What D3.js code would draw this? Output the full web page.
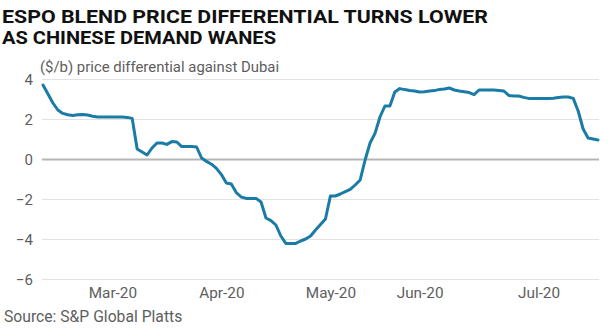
<!DOCTYPE html>
<html>
<head>
<meta charset="utf-8">
<script src="https://cdn.jsdelivr.net/npm/d3@7"></script>
<style>
  html, body { margin: 0; padding: 0; background: #fff; }
  svg { display: block; }
</style>
</head>
<body>
<svg id="chart" width="612" height="331"></svg>
<script>
// ESPO Blend differential against Dubai, $/b, one value per assessment day
const values = [
  3.70, 3.25, 2.80, 2.45, 2.28, 2.21, 2.17, 2.21, 2.23, 2.20,
  2.14, 2.10, 2.10, 2.10, 2.10, 2.10, 2.10, 2.08, 2.03, 0.50,
  0.35, 0.20, 0.55, 0.80, 0.80, 0.73, 0.87, 0.85, 0.62, 0.62,
  0.62, 0.60, 0.05, -0.12, -0.26, -0.47, -0.78, -1.20, -1.25, -1.68,
  -1.90, -1.97, -1.97, -1.97, -2.15, -2.95, -3.08, -3.30, -3.85, -4.22,
  -4.22, -4.22, -4.10, -4.00, -3.85, -3.55, -3.28, -3.00, -1.85, -1.85,
  -1.75, -1.63, -1.52, -1.30, -1.05, -0.05, 0.80, 1.28, 2.10, 2.65,
  2.65, 3.35, 3.52, 3.47, 3.43, 3.40, 3.35, 3.36, 3.40, 3.42,
  3.48, 3.50, 3.55, 3.45, 3.40, 3.36, 3.32, 3.22, 3.45, 3.45,
  3.45, 3.45, 3.43, 3.40, 3.18, 3.15, 3.15, 3.08, 3.03, 3.02,
  3.02, 3.02, 3.02, 3.04, 3.08, 3.10, 3.10, 3.03, 2.40, 1.50,
  1.05, 1.00, 0.95
];

// month labels and the observation they sit under
const monthLabels = ["Mar-20", "Apr-20", "May-20", "Jun-20", "Jul-20"];
const monthIndex  = [14, 36, 58, 76, 100];

const yTicks = [4, 2, 0, -2, -4, -6];

const titleLines = ["ESPO BLEND PRICE DIFFERENTIAL TURNS LOWER", "AS CHINESE DEMAND WANES"];
const subtitle = "($/b) price differential against Dubai";
const source = "Source: S&P Global Platts";

const svg = d3.select("#chart");
const font = "Roboto, 'Noto Sans', sans-serif";
const grey = "#5e5e5e";

const plot = { left: 42, right: 599, top: 79, bottom: 279 };

const x = d3.scaleLinear()
  .domain([0, values.length - 1])
  .range([43, 598]);

const y = d3.scaleLinear()
  .domain([-6, 4])
  .range([plot.bottom, plot.top]);

// title
svg.append("g").selectAll("text")
  .data(titleLines)
  .join("text")
  .attr("x", 2)
  .attr("y", (d, i) => 23 + i * 21)
  .attr("font-family", font)
  .attr("font-weight", 700)
  .attr("font-size", 18.5)
  .attr("fill", "#111")
  .attr("textLength", (d, i) => i === 0 ? 486 : 274)
  .attr("lengthAdjust", "spacingAndGlyphs")
  .text(d => d);

svg.append("text")
  .attr("x", 40)
  .attr("y", 72)
  .attr("font-family", font)
  .attr("font-size", 14.9)
  .attr("fill", grey)
  .text(subtitle);

// horizontal gridlines
const yAxis = d3.axisLeft(y)
  .tickValues(yTicks)
  .tickSize(-(plot.right - plot.left))
  .tickPadding(9)
  .tickFormat(d3.format("d"));

const gy = svg.append("g")
  .attr("transform", `translate(${plot.left},0)`)
  .call(yAxis);
gy.select(".domain").remove();
gy.selectAll(".tick line")
  .attr("stroke", d => d === 0 ? "#b5b5b5" : "#e2e2e2")
  .attr("stroke-width", d => d === 0 ? 2 : 1.2);
gy.selectAll(".tick text")
  .attr("font-family", font)
  .attr("font-size", 15)
  .attr("fill", grey)
  .attr("dy", "0.35em");

// month labels
const xAxis = d3.axisBottom(x)
  .tickValues(monthIndex)
  .tickSize(0)
  .tickPadding(8)
  .tickFormat((d, i) => monthLabels[i]);

const gx = svg.append("g")
  .attr("transform", `translate(0,${plot.bottom})`)
  .call(xAxis);
gx.select(".domain").remove();
gx.selectAll(".tick text")
  .attr("font-family", font)
  .attr("font-size", 15.3)
  .attr("fill", grey);

// differential line
const line = d3.line()
  .x((d, i) => x(i))
  .y(d => y(d));

svg.append("path")
  .datum(values)
  .attr("d", line)
  .attr("fill", "none")
  .attr("stroke", "#1a7ca6")
  .attr("stroke-width", 3)
  .attr("stroke-linejoin", "round")
  .attr("stroke-linecap", "round");

svg.append("text")
  .attr("x", 4)
  .attr("y", 322)
  .attr("font-family", font)
  .attr("font-size", 15.7)
  .attr("fill", grey)
  .text(source);
</script>
</body>
</html>
